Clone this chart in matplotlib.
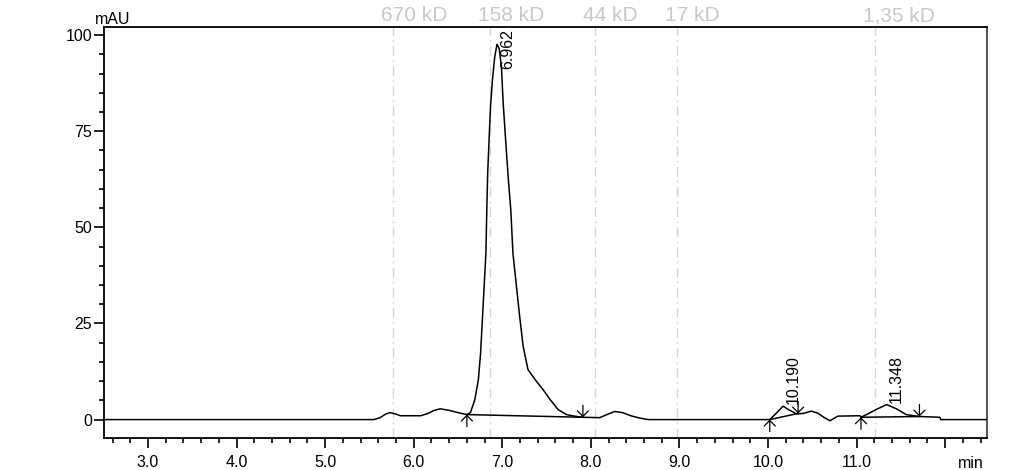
import matplotlib.pyplot as plt
from matplotlib.ticker import MultipleLocator

plt.rcParams['font.family'] = ['Liberation Sans', 'DejaVu Sans']

# chromatogram trace (min, mAU)
trace_t = [2.50, 5.55, 5.62, 5.68, 5.73, 5.79, 5.85, 6.08, 6.16, 6.23, 6.30, 6.40,
           6.52, 6.60, 6.64, 6.69, 6.73, 6.755, 6.775, 6.795, 6.815, 6.825, 6.835,
           6.852, 6.868, 6.89, 6.915, 6.94, 6.965, 6.99, 7.01, 7.04, 7.066, 7.096,
           7.12, 7.16, 7.20, 7.236, 7.29, 7.37, 7.46, 7.54, 7.63, 7.725, 7.82, 7.91,
           8.10, 8.18, 8.27, 8.36, 8.45, 8.55, 8.65, 10.02, 10.10, 10.17, 10.23,
           10.32, 10.40, 10.49, 10.56, 10.63, 10.70, 10.79, 11.04, 11.05, 11.13,
           11.22, 11.34, 11.45, 11.56, 11.71, 11.94, 11.95, 12.47]
trace_y = [0, 0, 0.5, 1.4, 1.8, 1.5, 1.0, 1.0, 1.6, 2.4, 2.8, 2.4,
           1.7, 1.3, 1.8, 5.2, 10.4, 17.3, 26.0, 34.6, 43.3, 54.5, 64.0,
           73.6, 81.8, 88.7, 94.4, 97.6, 96.5, 91.8, 82.3, 71.9, 63.2, 54.5,
           43.3, 34.6, 26.0, 19.0, 13.0, 10.4, 7.8, 5.2, 2.6, 1.3, 0.87, 0.6,
           0.5, 1.3, 2.1, 1.8, 1.0, 0.4, 0.0, 0.0, 1.8, 3.5, 2.6,
           1.5, 1.6, 2.2, 1.7, 0.6, -0.3, 0.9, 1.0, 0.6, 1.5,
           2.6, 3.9, 2.8, 1.3, 0.8, 0.6, 0.0, 0.0]

# integrated peaks
peak_rt = [6.962, 10.190, 11.348]
peak_height = [97.6, 3.5, 3.9]
peak_start_t = [6.60, 10.02, 11.05]
peak_start_y = [1.3, 0.0, 0.6]
peak_end_t = [7.91, 10.34, 11.71]
peak_end_y = [0.6, 1.6, 0.8]

# calibration standards
std_t = [5.766, 6.86, 8.045, 8.971, 11.206]
std_labels = ['670 kD', '158 kD', '44 kD', '17 kD', '1,35 kD']

x_ticks = [3.0, 4.0, 5.0, 6.0, 7.0, 8.0, 9.0, 10.0, 11.0, 12.0]
x_ticklabels = ['3.0', '4.0', '5.0', '6.0', '7.0', '8.0', '9.0', '10.0', '11.0', '']
y_ticks = [0, 25, 50, 75, 100]

fig = plt.figure(figsize=(10.3, 4.7), dpi=100)
ax = fig.add_axes([0.101, 0.068, 0.857, 0.8745])

for t in std_t:
    ax.axvline(t, color='#d6d6d6', lw=1, ls=(0, (7, 3, 1.5, 3)), zorder=1)

ax.plot(trace_t, trace_y, color='black', lw=1.1, zorder=3)

arrow = dict(arrowstyle='->,head_length=0.4,head_width=0.4', color='black',
             lw=0.9, shrinkA=0, shrinkB=0, mutation_scale=10)
for i in range(len(peak_rt)):
    ax.plot([peak_start_t[i], peak_end_t[i]], [peak_start_y[i], peak_end_y[i]],
            color='black', lw=1.1, zorder=3)
    ax.annotate('', xy=(peak_start_t[i], peak_start_y[i]), xytext=(0, -12),
                textcoords='offset pixels', arrowprops=arrow)
    ax.annotate('', xy=(peak_end_t[i], peak_end_y[i]), xytext=(0, 12),
                textcoords='offset pixels', arrowprops=arrow)
    if peak_height[i] > 90:
        ax.annotate(f'{peak_rt[i]:.3f}', xy=(peak_rt[i], 1), xycoords=('data', 'axes fraction'),
                    xytext=(1, -2), textcoords='offset pixels', rotation=90,
                    ha='left', va='top', fontsize=11.5)
    else:
        ax.annotate(f'{peak_rt[i]:.3f}', xy=(peak_rt[i], peak_height[i]),
                    xytext=(1, 2), textcoords='offset pixels', rotation=90,
                    ha='left', va='bottom', fontsize=11.5)

for t, lab in zip(std_t, std_labels):
    ax.annotate(lab, xy=(t, 1), xycoords=('data', 'axes fraction'),
                xytext=(-12, 6), textcoords='offset pixels', ha='left',
                va='baseline', color='#c8c8c8', fontsize=15, annotation_clip=False)

ax.annotate('mAU', xy=(0, 1), xycoords='axes fraction', xytext=(-9, 3),
            textcoords='offset pixels', ha='left', va='baseline', fontsize=11.5)
ax.annotate('min', xy=(1, 0), xycoords='axes fraction', xytext=(-29, -30),
            textcoords='offset pixels', ha='left', va='baseline', fontsize=11.5)

ax.set_xlim(2.503, 12.47)
ax.set_ylim(-4.8, 102.1)
ax.set_xticks(x_ticks)
ax.set_xticklabels(x_ticklabels)
ax.set_yticks(y_ticks)
ax.xaxis.set_minor_locator(MultipleLocator(0.2))
ax.yaxis.set_minor_locator(MultipleLocator(5))
ax.tick_params(which='major', length=7, width=1.2, labelsize=11.5, direction='out')
ax.tick_params(which='minor', length=3.6, width=1.2, direction='out')
ax.tick_params(axis='x', which='major', pad=5)
ax.tick_params(axis='y', which='major', pad=1.5)
for s in ax.spines.values():
    s.set_linewidth(1.3)
ax.spines['right'].set_color('#444444')

fig.savefig('out.png', dpi=100)
